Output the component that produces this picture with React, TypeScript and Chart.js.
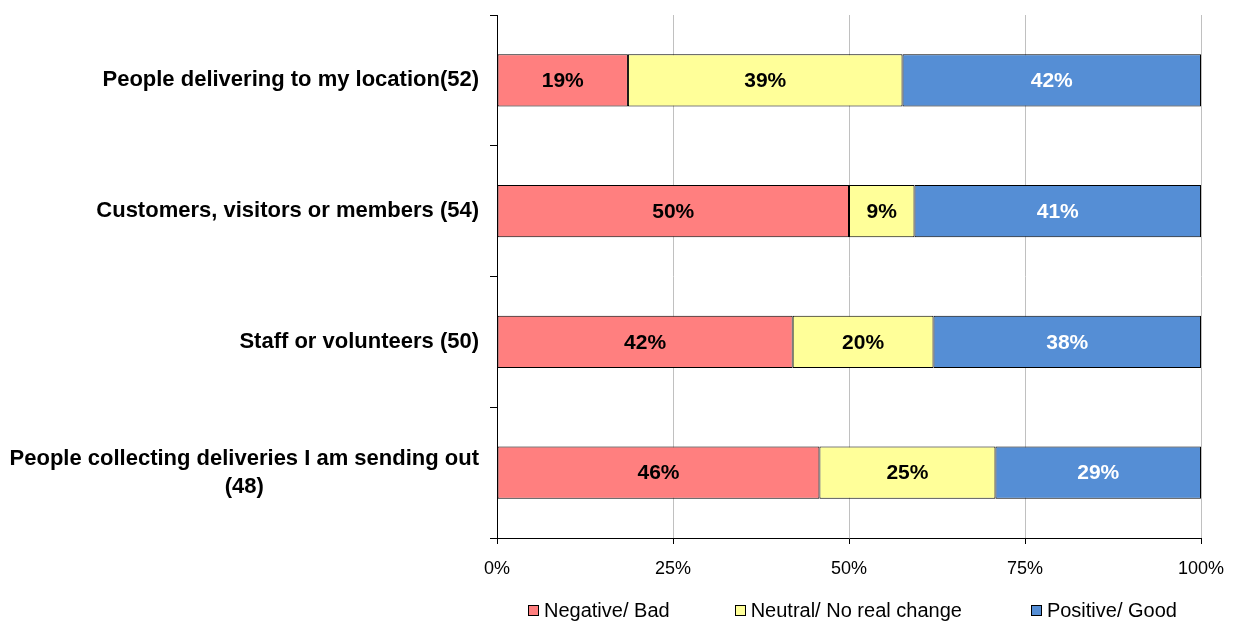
import React, { useEffect, useRef } from "react";
import { Chart, registerables } from "chart.js";

Chart.register(...registerables);

const categoryLines: string[][] = [
  ["People delivering to my location(52)"],
  ["Customers, visitors or members (54)"],
  ["Staff or volunteers (50)"],
  ["People collecting deliveries I am sending out", "(48)"],
];
const categories = categoryLines.map((l) => l.join(" "));
const negative = [18.6, 50, 42, 45.8];
const neutral = [39, 9.3, 20, 25];
const positive = [42.4, 40.7, 38, 29.2];
const seriesNames = ["Negative/ Bad", "Neutral/ No real change", "Positive/ Good"];
const seriesColors = ["#FF7F7F", "#FFFF99", "#558ED5"];
const xTicks = [0, 25, 50, 75, 100];

const FONT = "'Liberation Sans', Arial, sans-serif";

const yLabelPlugin = {
  id: "yLabels",
  afterDraw(chart: any) {
    const ctx = chart.ctx;
    const y = chart.scales.y;
    const right = chart.chartArea.left - 18;
    ctx.save();
    ctx.font = `bold 22px ${FONT}`;
    ctx.fillStyle = "#000";
    ctx.textAlign = "center";
    ctx.textBaseline = "middle";
    categoryLines.forEach((lines, i) => {
      const cy = y.getPixelForValue(i);
      const maxW = Math.max(...lines.map((l) => ctx.measureText(l).width));
      const cx = right - maxW / 2;
      const lh = 28;
      const start = cy - ((lines.length - 1) * lh) / 2;
      lines.forEach((l, j) => ctx.fillText(l, cx, start + j * lh));
    });
    ctx.restore();
  },
};

const valueLabelPlugin = {
  id: "valueLabels",
  afterDatasetsDraw(chart: any) {
    const ctx = chart.ctx;
    ctx.save();
    ctx.font = `bold 21px ${FONT}`;
    ctx.textAlign = "center";
    ctx.textBaseline = "middle";
    chart.data.datasets.forEach((ds: any, di: number) => {
      const meta = chart.getDatasetMeta(di);
      meta.data.forEach((bar: any, i: number) => {
        const v = ds.data[i];
        const cx = (bar.x + bar.base) / 2;
        ctx.fillStyle = di === 2 ? "#ffffff" : "#000000";
        ctx.fillText(Math.round(v) + "%", cx, bar.y + 1);
      });
    });
    ctx.restore();
  },
};

export default function App() {
  const ref = useRef<HTMLCanvasElement>(null);
  useEffect(() => {
    if (!ref.current) return;
    const chart = new Chart(ref.current, {
      type: "bar",
      data: {
        labels: categories,
        datasets: [negative, neutral, positive].map((data, i) => ({
          label: seriesNames[i],
          data,
          backgroundColor: seriesColors[i],
          borderColor: "#000000",
          borderWidth: 1,
          borderSkipped: false,
          categoryPercentage: 1,
          barPercentage: 0.4,
        })),
      },
      options: {
        indexAxis: "y",
        responsive: false,
        animation: false,
        layout: { padding: { left: 487, right: 36, top: 15, bottom: 0 } },
        plugins: {
          tooltip: { enabled: false },
          legend: { display: false },
        },
        scales: {
          x: {
            stacked: true,
            min: 0,
            max: 100,
            afterBuildTicks(scale: any) {
              scale.ticks = xTicks.map((v) => ({ value: v }));
            },
            afterFit(scale: any) {
              scale.paddingLeft = 0;
              scale.paddingRight = 0;
              scale.height = 85;
            },
            ticks: {
              font: { family: FONT, size: 18 },
              color: "#000",
              padding: 14,
              maxRotation: 0,
              callback: (v: any) => v + "%",
            },
            grid: {
              color: (c: any) => (c.tick && c.tick.value === 0 ? "rgba(0,0,0,0)" : "#C0C0C0"),
              tickColor: "#000",
              tickLength: 6,
              lineWidth: 1,
            },
            border: { color: "#000", width: 1 },
          },
          y: {
            stacked: true,
            offset: true,
            ticks: { display: false },
            afterFit(scale: any) {
              scale.width = 10;
            },
            grid: {
              offset: true,
              drawOnChartArea: false,
              color: "#000",
              tickLength: 7,
            },
            border: { color: "#000", width: 1 },
          },
        },
      },
      plugins: [yLabelPlugin, valueLabelPlugin],
    });
    return () => chart.destroy();
  }, []);
  return (
    <div style={{ position: "absolute", left: 0, top: 0, width: 1237, height: 623, background: "#fff" }}>
      <canvas ref={ref} width={1237} height={623} style={{ display: "block" }} />
      <div
        style={{
          position: "absolute",
          left: 528,
          top: 597,
          display: "flex",
          alignItems: "center",
          fontFamily: FONT,
          fontSize: 20,
          lineHeight: "26px",
          color: "#000",
          whiteSpace: "nowrap",
        }}
      >
        {seriesNames.map((name, i) => (
          <div key={name} style={{ display: "flex", alignItems: "center", marginRight: i === 0 ? 65 : 69 }}>
            <span
              style={{
                display: "inline-block",
                width: 9,
                height: 9,
                border: "1px solid #000",
                background: seriesColors[i],
                marginRight: 5,
              }}
            />
            <span>{name}</span>
          </div>
        ))}
      </div>
    </div>
  );
}
